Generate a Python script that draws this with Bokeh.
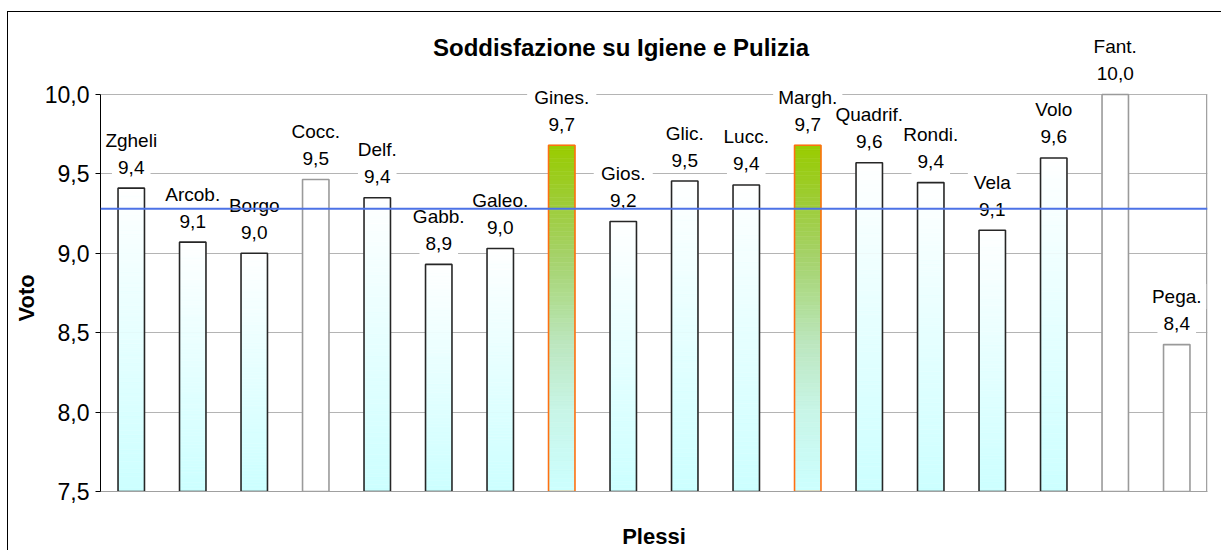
import numpy as np
from bokeh.plotting import figure
from bokeh.models import ColumnDataSource, Label, Span, FactorRange, Range1d, FixedTicker, Title
from bokeh.embed import file_html
from bokeh.resources import INLINE

# ---- data ----
plessi = ["Zgheli", "Arcob.", "Borgo", "Cocc.", "Delf.", "Gabb.", "Galeo.", "Gines.", "Gios.",
          "Glic.", "Lucc.", "Margh.", "Quadrif.", "Rondi.", "Vela", "Volo", "Fant.", "Pega."]
voti = [9.41, 9.07, 9.00, 9.465, 9.35, 8.93, 9.03, 9.68, 9.20,
        9.455, 9.43, 9.68, 9.57, 9.445, 9.145, 9.60, 10.0, 8.425]
etichette = ["9,4", "9,1", "9,0", "9,5", "9,4", "8,9", "9,0", "9,7", "9,2",
             "9,5", "9,4", "9,7", "9,6", "9,4", "9,1", "9,6", "10,0", "8,4"]
media = 9.28
evidenziati = ["Gines.", "Margh."]
senza_riempimento = ["Cocc.", "Fant.", "Pega."]
y_ticks = [7.5, 8.0, 8.5, 9.0, 9.5, 10.0]
y_tick_labels = ["7,5", "8,0", "8,5", "9,0", "9,5", "10,0"]
titolo = "Soddisfazione su Igiene e Pulizia"

FONT = "Liberation Sans"
BASE = 7.5
Y_MAX = 10.0
Y_VIEW_TOP = 10.472   # extra head-room so the labels above the bars are not clipped
FRAME_H = 472
PX_PER_UNIT = FRAME_H / (Y_VIEW_TOP - BASE)

p = figure(x_range=FactorRange(*plessi), y_range=Range1d(BASE, Y_VIEW_TOP),
           frame_width=1107, frame_height=FRAME_H,
           min_border_left=92, min_border_right=14, min_border_top=7, min_border_bottom=58,
           output_backend="svg", toolbar_location=None)
p.styles = {"border-top": "1px solid black", "border-left": "1px solid black",
            "margin-top": "11px", "margin-left": "7px"}

p.outline_line_color = None
p.background_fill_color = "white"
p.border_fill_color = "white"

# y axis
p.yaxis.ticker = FixedTicker(ticks=y_ticks)
p.yaxis.bounds = (BASE, Y_MAX)
p.yaxis.major_label_overrides = {t: l for t, l in zip(y_ticks, y_tick_labels)}
p.yaxis.major_label_text_font = FONT
p.yaxis.major_label_text_font_size = "23px"
p.yaxis.major_label_text_color = "black"
p.yaxis.major_tick_in = 0
p.yaxis.major_tick_out = 5
p.yaxis.minor_tick_line_color = None
p.yaxis.major_label_standoff = 6
p.yaxis.axis_line_color = "black"
p.yaxis.major_tick_line_color = "black"

# y axis title, centred on the 7.5-10 scale rather than on the taller frame
p.add_layout(Title(text="Voto", align="left", offset=170, standoff=6, text_font=FONT,
                   text_font_size="22px", text_font_style="bold", text_color="black"), "left")

# x axis
p.xaxis.major_label_text_font_size = "0px"
p.xaxis.major_tick_line_color = None
p.xaxis.minor_tick_line_color = None
p.xaxis.axis_line_color = "#A0A0A0"
p.xaxis.major_label_standoff = 0
p.xaxis.axis_label = "Plessi"
p.xaxis.axis_label_text_font = FONT
p.xaxis.axis_label_text_font_size = "22px"
p.xaxis.axis_label_text_font_style = "bold"
p.xaxis.axis_label_text_color = "black"
p.xaxis.axis_label_standoff = 26

p.xgrid.grid_line_color = None
p.ygrid.grid_line_color = "#B4B4B4"
p.ygrid.grid_line_width = 1

# right edge of the plot area (only as tall as the value scale)
edge = len(plessi) - 0.012
p.segment(x0=[edge], y0=[BASE], x1=[edge], y1=[Y_MAX], line_color="#A0A0A0", line_width=1.5)

# ---- gradient bars (drawn as thin slices of each bar) ----
def interp(stops, t):
    for (t0, c0), (t1, c1) in zip(stops[:-1], stops[1:]):
        if t0 <= t <= t1:
            f = (t - t0) / (t1 - t0) if t1 > t0 else 0
            r, g, b = [int(round(a + (bb - a) * f)) for a, bb in zip(c0, c1)]
            return "#%02x%02x%02x" % (r, g, b)
    r, g, b = stops[-1][1]
    return "#%02x%02x%02x" % (r, g, b)

stops_cyan = [(0.0, (204, 255, 255)), (1.0, (255, 255, 255))]
stops_green = [(0.0, (204, 255, 255)), (0.24, (200, 245, 230)), (0.43, (188, 230, 190)),
               (0.53, (178, 223, 155)), (0.68, (165, 210, 105)), (0.85, (157, 204, 50)),
               (1.0, (153, 204, 0))]
N = 80
sx, sb, st, sc = [], [], [], []
for name, v in zip(plessi, voti):
    if name in senza_riempimento:
        sx.append(name); sb.append(BASE); st.append(v); sc.append("#ffffff")
        continue
    stops = stops_green if name in evidenziati else stops_cyan
    for k in range(N):
        sx.append(name)
        sb.append(BASE + (v - BASE) * k / N)
        st.append(BASE + (v - BASE) * (k + 1) / N)
        sc.append(interp(stops, (k + 0.5) / N))

slices = ColumnDataSource(dict(x=sx, bottom=sb, top=st, color=sc))
p.vbar(x="x", bottom="bottom", top="top", width=0.43, fill_color="color",
       line_color="color", line_width=0.6, source=slices)

outline_colors = []
for name in plessi:
    if name in evidenziati:
        outline_colors.append("#FF7010")
    elif name in senza_riempimento:
        outline_colors.append("#9A9A9A")
    else:
        outline_colors.append("#262626")
bars = ColumnDataSource(dict(x=plessi, top=voti, lc=outline_colors))
p.vbar(x="x", bottom=BASE, top="top", width=0.43, fill_color=None,
       line_color="lc", line_width=1.6, source=bars)

# ---- data labels: white boxes behind the text, then the text ----
NAME_OFF, VAL_OFF = 48, 21
bx, by, bw = [], [], []
for name, v, et in zip(plessi, voti, etichette):
    for txt, off in ((name, NAME_OFF), (et, VAL_OFF)):
        bx.append(name)
        by.append(v + off / PX_PER_UNIT)
        bw.append(len(txt) * 10.2 + 8)
p.rect(x=bx, y=by, width=bw, height=[25] * len(bx), width_units="screen",
       height_units="screen", fill_color="white", line_color=None)

for i, (name, v, et) in enumerate(zip(plessi, voti, etichette)):
    for txt, off in ((name, NAME_OFF), (et, VAL_OFF)):
        p.add_layout(Label(x=i + 0.5, y=v, text=txt, y_offset=off, text_align="center",
                           text_baseline="middle", text_font=FONT, text_font_size="19px",
                           text_color="black"))

# ---- title ----
p.add_layout(Label(x=len(plessi) / 2, y=Y_MAX, text=titolo, x_offset=-33, y_offset=47,
                   text_align="center", text_baseline="middle", text_font=FONT,
                   text_font_size="24px", text_font_style="bold", text_color="black"))

# ---- average line ----
p.add_layout(Span(location=media, dimension="width", line_color="#4C72E6", line_width=2))

open("out.html", "w").write(file_html(p, INLINE))
